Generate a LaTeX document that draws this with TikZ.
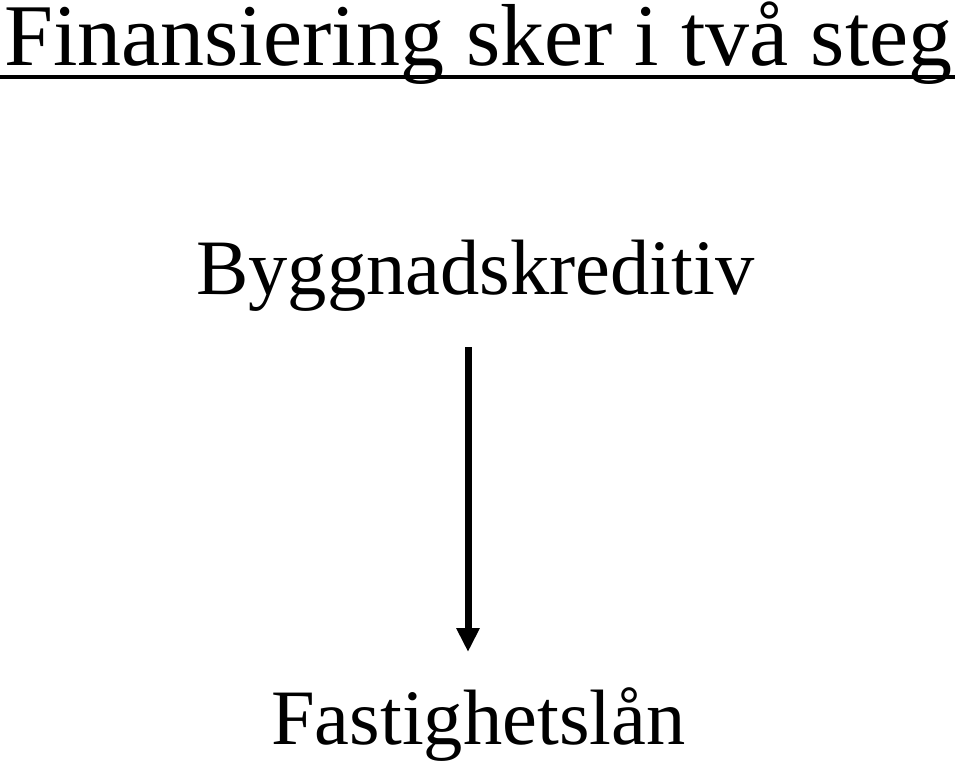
\documentclass[tikz,border=0pt]{standalone}
\usepackage{fontspec}
\setmainfont{Liberation Serif}
\usetikzlibrary{arrows.meta}
\begin{document}
\begin{tikzpicture}[x=1pt,y=-1pt,
  titletext/.style={anchor=base west,inner sep=0pt,font=\fontsize{88}{100}\selectfont},
  steptext/.style={anchor=base west,inner sep=0pt,font=\fontsize{78.5}{90}\selectfont},
  flowarrow/.style={line width=7pt,-{Triangle[width=22pt,length=24pt]}}]
\useasboundingbox (0,0) rectangle (960,761);
\node[titletext] (title) at (4,65) {Finansiering sker i två steg};
\coordinate (ulstart) at (0,77);
\coordinate (ulend) at (955,77);
\draw[line width=4pt] (ulstart) -- (ulend);
\node[steptext] (bygg) at (196,294) {Byggnadskreditiv};
\node[steptext] (fast) at (271,744) {Fastighetslån};
\coordinate (arrtop) at (468,347);
\coordinate (arrtip) at (468,652);
\draw[flowarrow] (arrtop) -- (arrtip);
\end{tikzpicture}
\end{document}
